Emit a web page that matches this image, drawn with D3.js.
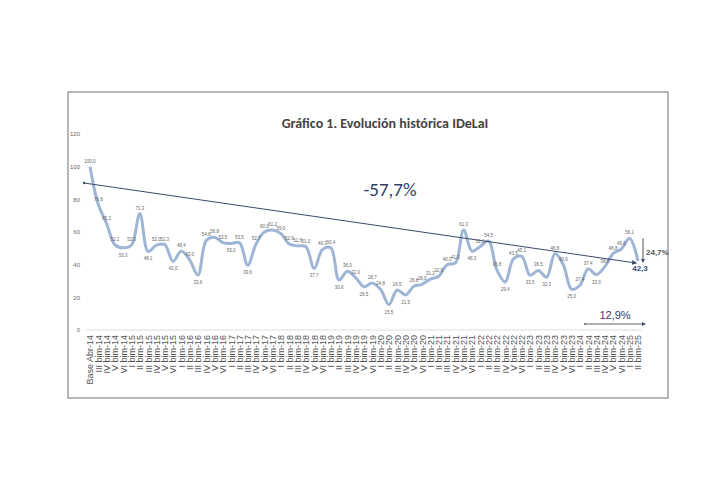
<!DOCTYPE html><html><head><meta charset="utf-8"><script src="https://cdn.jsdelivr.net/npm/d3@7"></script>
<style>body{margin:0;background:#fff}</style></head><body><svg id="c" width="720" height="480"></svg>
<script>
const categories=["Base Abr-14","III bim-14","IV bim-14","V bim-14","VI bim-14"];
for(let y=15;y<=24;y++)["I","II","III","IV","V","VI"].forEach(b=>categories.push(b+" bim-"+y));
categories.push("I bim-25","II bim-25");
const values=[100.0,76.8,65.2,52.1,50.3,52.0,71.3,48.1,52.0,52.3,42.0,48.4,43.0,33.6,54.8,56.8,53.5,53.0,53.5,39.6,52.7,60.0,61.2,59.0,52.6,51.5,51.0,37.7,49.3,50.4,30.6,36.0,32.0,26.5,28.7,24.8,15.5,24.5,21.5,26.8,28.0,31.2,32.9,40.0,41.0,61.3,48.3,51.1,54.5,36.8,29.4,43.5,45.1,33.5,36.5,32.3,46.8,40.0,25.0,27.4,37.4,33.9,38.8,46.8,49.6,56.1,42.3];
const yTicks=[0,20,40,60,80,100,120];
const trend=[90,41];
const svg=d3.select("#c");
svg.append("rect").attr("x",68).attr("y",92).attr("width",600).attr("height",306).attr("fill","#fff").attr("stroke","#888").attr("stroke-width",1.2);
const x=d3.scalePoint().domain(categories).range([90,638]);
const y=d3.scaleLinear().domain([0,120]).range([330,134]);
svg.append("text").attr("x",385).attr("y",128).attr("text-anchor","middle").attr("font-family","Calibri,Carlito,Liberation Sans,sans-serif").attr("font-weight","bold").attr("font-size",14).attr("fill","#444").text("Gráfico 1. Evolución histórica IDeLaI");
const ya=svg.append("g").attr("transform","translate(84,0)").call(d3.axisLeft(y).tickValues(yTicks).tickSize(0).tickPadding(4));
ya.select(".domain").remove();
ya.selectAll("text").attr("font-size",6).attr("fill","#666").attr("font-family","Liberation Sans,sans-serif");
svg.append("line").attr("x1",86).attr("x2",642).attr("y1",y(0)).attr("y2",y(0)).attr("stroke","#ddd");
const xa=svg.append("g").attr("transform",`translate(0,${y(0)+3})`).call(d3.axisBottom(x).tickSize(0).tickPadding(0));
xa.select(".domain").remove();
xa.selectAll("text").attr("transform","rotate(-90)").attr("text-anchor","end").attr("dx","-2").attr("dy","0.32em").attr("font-size",9).attr("fill","#555").attr("font-family","Liberation Sans,sans-serif");
const line=d3.line().x((d,i)=>x(categories[i])).y(d=>y(d)).curve(d3.curveCatmullRom.alpha(0.5));
svg.append("path").datum(values).attr("d",line).attr("fill","none").attr("stroke","#9fb5d6").attr("stroke-width",3);
svg.append("g").selectAll("text").data(values).join("text")
 .attr("x",(d,i)=>x(categories[i])).attr("y",(d,i)=>{const p=values[i-1]??d,n=values[i+1]??d;return (d<=p&&d<=n)? y(d)+9 : y(d)-4;})
 .attr("text-anchor","middle").attr("font-size",4.5).attr("fill","#666").attr("font-family","Liberation Sans,sans-serif")
 .text((d,i)=>i===values.length-1?"":d.toFixed(1).replace(".",","));
const defs=svg.append("defs");
defs.append("marker").attr("id","ah").attr("viewBox","0 0 10 10").attr("refX",8).attr("refY",5).attr("markerWidth",5).attr("markerHeight",5).attr("orient","auto").append("path").attr("d","M0,0L10,5L0,10z").attr("fill","#3b4a6b");
defs.append("marker").attr("id","ab").attr("viewBox","0 0 10 10").attr("refX",5).attr("refY",5).attr("markerWidth",4).attr("markerHeight",4).attr("orient","auto").append("path").attr("d","M0,0L10,5L0,10z").attr("fill","#3b4a6b");
svg.append("line").attr("x1",84).attr("y1",y(trend[0])).attr("x2",x(categories[categories.length-1])-2).attr("y2",y(trend[1])).attr("stroke","#3b4a6b").attr("stroke-width",1).attr("marker-end","url(#ah)");
svg.append("circle").attr("cx",84).attr("cy",y(trend[0])).attr("r",1.2).attr("fill","#3b4a6b");
svg.append("text").attr("x",390).attr("y",196).attr("text-anchor","middle").attr("font-family","Calibri,Carlito,Liberation Sans,sans-serif").attr("font-size",19).attr("fill","#2f3f66").text("-57,7%");
svg.append("text").attr("x",640).attr("y",y(42.3)+10).attr("text-anchor","middle").attr("font-weight","bold").attr("font-size",8).attr("fill","#2f4a80").attr("font-family","Liberation Sans,sans-serif").text("42,3");
svg.append("line").attr("x1",643).attr("x2",643).attr("y1",y(56.1)).attr("y2",y(42.3)).attr("stroke","#555").attr("stroke-width",1).attr("marker-end","url(#ab)");
svg.append("text").attr("x",646).attr("y",255).attr("font-size",8).attr("font-weight","bold").attr("fill","#555").attr("font-family","Liberation Sans,sans-serif").text("24,7%");
svg.append("text").attr("x",615).attr("y",319).attr("text-anchor","middle").attr("font-size",11).attr("fill","#2f3f66").attr("font-family","Liberation Sans,sans-serif").text("12,9%");
svg.append("line").attr("x1",585).attr("x2",644).attr("y1",324).attr("y2",324).attr("stroke","#666").attr("stroke-width",1).attr("marker-end","url(#ab)");
svg.append("circle").attr("cx",585).attr("cy",324).attr("r",1).attr("fill","#666");
</script></body></html>
